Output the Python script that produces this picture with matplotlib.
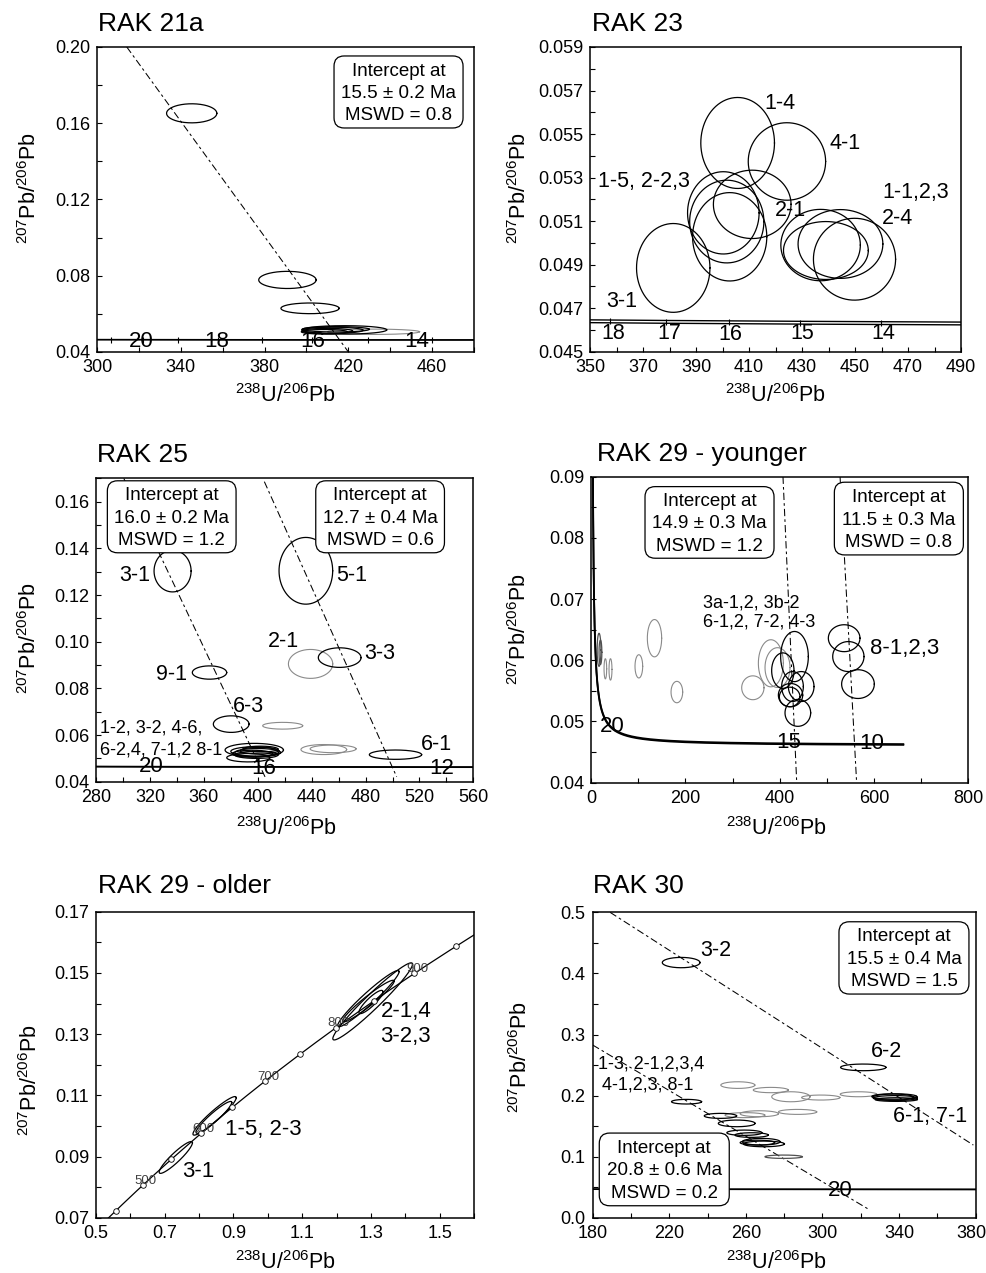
import numpy as np
import matplotlib
matplotlib.use("Agg")
import matplotlib.pyplot as plt
import matplotlib.transforms as mtrans
from matplotlib.ticker import FixedLocator, FormatStrFormatter
from matplotlib.patches import FancyBboxPatch

plt.rcParams['font.family'] = ['Liberation Sans', 'DejaVu Sans']
plt.rcParams['mathtext.fontset'] = 'custom'
plt.rcParams['mathtext.rm'] = 'Liberation Sans'
plt.rcParams['mathtext.it'] = 'Liberation Sans:italic'
plt.rcParams['mathtext.bf'] = 'Liberation Sans:bold'
plt.rcParams['mathtext.sf'] = 'Liberation Sans'

# ---------------- constants ----------------
LAMBDA_238 = 1.55125e-10
LAMBDA_235 = 9.8485e-10
U238_U235 = 137.88
LAMBDA_235_REL_ERR = 0.00137

XLABEL = r'$^{238}$U/$^{206}$Pb'
YLABEL = r'$^{207}$Pb/$^{206}$Pb'

# ---------------- RAK 21a ----------------
r21a_x = [345.2, 390.9, 401.7, 418.0, 412.5, 410.0, 414.0, 408.5, 432.0]
r21a_sx = [12.0, 13.7, 13.9, 20.3, 14.5, 12.0, 16.0, 11.0, 22.0]
r21a_y = [0.1652, 0.0778, 0.0629, 0.0516, 0.0514, 0.0510, 0.0519, 0.0506, 0.0506]
r21a_sy = [0.0050, 0.0045, 0.0028, 0.0022, 0.0016, 0.0014, 0.0014, 0.0012, 0.0014]
r21a_kind = ['k', 'k', 'k', 'k', 'k', 'k', 'k', 'k', 'g']
r21a_disc_x = [[314.2, 420.0]]
r21a_disc_y = [[0.20, 0.04]]
r21a_age_text = ['20', '18', '16', '14']
r21a_age_x = [320.9, 357.2, 402.9, 452.6]
r21a_age_y = [0.0457, 0.0457, 0.0457, 0.0457]
r21a_age_ticks = [14, 15, 16, 17, 18, 19, 20, 21]
r21a_box = ['Intercept at\n15.5 \u00b1 0.2 Ma\nMSWD = 0.8']

# ---------------- RAK 23 ----------------
r23_x = [405.7, 424.3, 381.4, 400.3, 401.6, 402.7, 411.2, 437.0, 439.0, 444.5, 449.8]
r23_sx = [13.9, 14.6, 13.85, 13.5, 14.0, 14.0, 14.65, 15.0, 16.0, 16.0, 15.5]
r23_y = [0.05459, 0.05374, 0.04885, 0.05138, 0.05098, 0.05028, 0.05177,
         0.04990, 0.04965, 0.04995, 0.04925]
r23_sy = [0.00209, 0.00178, 0.00204, 0.00189, 0.00190, 0.00203, 0.00157,
          0.00164, 0.00133, 0.00158, 0.00188]
r23_labels = ['1-4', '4-1', '1-5, 2-2,3', '2-1', '1-1,2,3', '2-4', '3-1']
r23_lx = [421.7, 446.2, 370.4, 425.5, 473.0, 466.0, 362.0]
r23_ly = [0.0564, 0.05456, 0.0528, 0.0515, 0.0523, 0.0511, 0.0473]
r23_age_text = ['18', '17', '16', '15', '14']
r23_age_x = [358.8, 379.8, 403.1, 429.9, 460.7]
r23_age_y = [0.04584, 0.04584, 0.04577, 0.04584, 0.04584]
r23_age_ticks = [14, 15, 16, 17, 18]

# ---------------- RAK 25 ----------------
r25_x = [336.8, 435.7, 439.2, 460.8, 364.2, 380.3, 418.5, 449.0, 455.9, 502.2,
         397.4, 393.0, 398.0, 400.0, 396.0, 401.0, 399.0, 402.0]
r25_sx = [13.75, 19.9, 16.45, 15.85, 12.75, 13.25, 14.85, 16.95, 17.05, 19.4,
          21.65, 16.0, 18.0, 17.0, 15.0, 14.0, 16.0, 13.0]
r25_y = [0.1303, 0.1304, 0.0905, 0.0932, 0.0868, 0.0647, 0.0640, 0.0538, 0.0541, 0.0516,
         0.0536, 0.0503, 0.0530, 0.0525, 0.0520, 0.0533, 0.0515, 0.0540]
r25_sy = [0.00895, 0.0143, 0.0062, 0.0042, 0.00285, 0.00355, 0.00145, 0.00215, 0.00165, 0.0020,
          0.00285, 0.0018, 0.0020, 0.00175, 0.0015, 0.0014, 0.0015, 0.00125]
r25_kind = ['k', 'k', 'g', 'k', 'k', 'k', 'g', 'g', 'g', 'k',
            'k', 'k', 'k', 'k', 'k', 'k', 'k', 'k']
r25_disc_x = [[300.6, 405.4], [404.9, 503.1]]
r25_disc_y = [[0.17, 0.0421], [0.1686, 0.0421]]
r25_labels = ['3-1', '5-1', '2-1', '3-3', '9-1', '6-3', '6-1']
r25_lx = [308.9, 469.7, 419.0, 490.7, 336.1, 393.0, 532.8]
r25_ly = [0.1286, 0.1286, 0.1000, 0.0950, 0.0860, 0.0721, 0.0561]
r25_group = ['1-2, 3-2, 4-6,', '6-2,4, 7-1,2 8-1']
r25_gx = [283.0, 283.0]
r25_gy = [0.0629, 0.0536]
r25_age_text = ['20', '16', '12']
r25_age_x = [321.3, 404.2, 536.5]
r25_age_y = [0.0464, 0.0457, 0.0457]
r25_box = ['Intercept at\n16.0 \u00b1 0.2 Ma\nMSWD = 1.2',
           'Intercept at\n12.7 \u00b1 0.4 Ma\nMSWD = 0.6']

# ---------------- RAK 29 - younger ----------------
r29y_x = [17.0, 20.0, 30.4, 41.3, 101.4, 134.6, 182.0, 343.1, 381.3, 395.4,
          431.4, 406.7, 427.2, 445.6, 423.0, 421.2, 438.5, 536.7, 545.6, 566.0]
r29y_sx = [4.0, 3.0, 2.8, 3.15, 8.15, 15.2, 12.35, 23.65, 26.5, 26.5,
           29.35, 23.7, 23.0, 27.2, 25.8, 21.9, 27.2, 33.55, 33.2, 34.65]
r29y_y = [0.0617, 0.0613, 0.0586, 0.0585, 0.0590, 0.0636, 0.0548, 0.0555, 0.0595, 0.0588,
          0.0606, 0.0583, 0.0557, 0.0557, 0.0543, 0.0540, 0.0514, 0.0636, 0.0606, 0.0561]
r29y_sy = [0.0027, 0.0020, 0.00165, 0.00175, 0.0019, 0.00305, 0.00175, 0.00195, 0.00385, 0.00325,
           0.0041, 0.0029, 0.00245, 0.00245, 0.0019, 0.0016, 0.0022, 0.0022, 0.00245, 0.00235]
r29y_kind = ['d', 'd'] + ['g'] * 8 + ['k'] * 10
r29y_disc_x = [[407.0, 436.0], [528.0, 563.0]]
r29y_disc_y = [[0.09, 0.0402], [0.09, 0.0402]]
r29y_group = ['3a-1,2, 3b-2', '6-1,2, 7-2, 4-3']
r29y_gx = [238.2, 238.2]
r29y_gy = [0.0694, 0.0663]
r29y_labels = ['8-1,2,3']
r29y_lx = [591.5]
r29y_ly = [0.0619]
r29y_age_text = ['20', '15', '10']
r29y_age_x = [45.9, 419.8, 595.0]
r29y_age_y = [0.0491, 0.0466, 0.0464]
r29y_box = ['Intercept at\n14.9 \u00b1 0.3 Ma\nMSWD = 1.2',
            'Intercept at\n11.5 \u00b1 0.3 Ma\nMSWD = 0.8']

# ---------------- RAK 29 - older ----------------
r29o_x = [0.7321, 0.845, 0.843, 1.305, 1.2925, 1.2925, 1.300]
r29o_sx = [0.0484, 0.063, 0.052, 0.116, 0.0895, 0.075, 0.035]
r29o_y = [0.0897, 0.1033, 0.1028, 0.1407, 0.1416, 0.1408, 0.1405]
r29o_sy = [0.0052, 0.0063, 0.0052, 0.0126, 0.0092, 0.0068, 0.0038]
r29o_rho = [0.92, 0.94, 0.935, 0.965, 0.96, 0.955, 0.88]
r29o_labels = ['3-1', '1-5, 2-3', '2-1,4', '3-2,3']
r29o_lx = [0.797, 0.9855, 1.4013, 1.4013]
r29o_ly = [0.0850, 0.0987, 0.1373, 0.1292]
r29o_marker_ages = [450, 500, 550, 600, 650, 700, 750, 800, 850, 900, 950]
r29o_label_ages = [500, 600, 700, 800, 900]

# ---------------- RAK 30 ----------------
r30_x = [255.8, 273.0, 283.5, 299.1, 318.8, 259.5, 267.0, 287.0,
         226.2, 321.3, 337.5, 338.0, 338.5, 337.0, 229.0, 246.7, 255.2, 259.2, 263.0,
         268.0, 269.4, 266.0, 279.7]
r30_sx = [8.9, 9.15, 10.0, 10.0, 9.55, 10.4, 10.0, 10.0,
          9.85, 11.85, 11.75, 11.5, 11.0, 10.5, 7.85, 8.45, 9.6, 9.15, 8.7,
          9.85, 10.7, 9.0, 9.75]
r30_y = [0.2172, 0.2091, 0.1981, 0.1968, 0.2022, 0.1680, 0.1703, 0.1733,
         0.4178, 0.2462, 0.1985, 0.1960, 0.1935, 0.1975, 0.1900, 0.1668, 0.1545, 0.1392, 0.1354,
         0.1245, 0.1209, 0.1230, 0.0999]
r30_sy = [0.00545, 0.00435, 0.0082, 0.0041, 0.0041, 0.0041, 0.0049, 0.0041,
          0.00845, 0.00545, 0.0045, 0.0040, 0.0030, 0.0050, 0.0038, 0.0041, 0.00545, 0.00435, 0.0038,
          0.00545, 0.00465, 0.0040, 0.00275]
r30_kind = ['g'] * 8 + ['k'] * 14 + ['d']
r30_disc_x = [[189.1, 378.8], [180.0, 324.8]]
r30_disc_y = [[0.5, 0.119], [0.2828, 0.0126]]
r30_labels = ['3-2', '6-2', '6-1, 7-1']
r30_lx = [244.4, 333.5, 356.2]
r30_ly = [0.4383, 0.2718, 0.1665]
r30_group = ['1-3, 2-1,2,3,4', '4-1,2,3, 8-1']
r30_gx = [183.0, 184.7]
r30_gy = [0.2516, 0.2172]
r30_age_text = ['20']
r30_age_x = [309.2]
r30_age_y = [0.0453]
r30_box = ['Intercept at\n15.5 \u00b1 0.4 Ma\nMSWD = 1.5',
           'Intercept at\n20.8 \u00b1 0.6 Ma\nMSWD = 0.2']

# ---------------- styling helpers ----------------
COLORS = {'k': 'black', 'g': '#8a8a8a', 'd': '#505050'}
LW = {'k': 0.9, 'g': 0.8, 'd': 0.9}
DASH = (0, (7, 3, 2.5, 3))
BIG = 15.5
SMALL = 13
TICK = 13
BOXFS = 13.5


def tw_concordia(ages_ma, lam235):
    t = np.asarray(ages_ma, dtype=float) * 1e6
    e238 = np.expm1(LAMBDA_238 * t)
    e235 = np.expm1(lam235 * t)
    return 1.0 / e238, e235 / e238 / U238_U235


def wetherill(ages_ma):
    t = np.asarray(ages_ma, dtype=float) * 1e6
    return np.expm1(LAMBDA_235 * t), np.expm1(LAMBDA_238 * t)


def draw_ellipses(ax, xs, sxs, ys, sys_, kinds=None, rhos=None):
    tt = np.linspace(0, 2 * np.pi, 240)
    for i in range(len(xs)):
        kind = kinds[i] if kinds is not None else 'k'
        rho = rhos[i] if rhos is not None else 0.0
        ex = xs[i] + sxs[i] * np.cos(tt)
        ey = ys[i] + sys_[i] * (rho * np.cos(tt) + np.sqrt(1 - rho ** 2) * np.sin(tt))
        ax.plot(ex, ey, color=COLORS[kind], lw=LW[kind], zorder=3 if kind != 'g' else 2)


def draw_concordia(ax, ages, lw):
    for sgn in (1, -1):
        cx, cy = tw_concordia(ages, LAMBDA_235 * (1 + sgn * LAMBDA_235_REL_ERR))
        ax.plot(cx, cy, color='black', lw=lw, zorder=4, solid_capstyle='butt')


def draw_age_ticks(ax, ages):
    cx, cy = tw_concordia(ages, LAMBDA_235)
    ax.plot(cx, cy, ls='none', marker='|', ms=4, mew=0.8, color='black', zorder=4)


def draw_disc(ax, xs, ys):
    for lx, ly in zip(xs, ys):
        ax.plot(lx, ly, color='black', lw=0.75, ls=DASH, zorder=3)


def style(ax, xlim, ylim, xmaj, xminstep, ymaj, yminstep, xfmt, yfmt):
    ax.set_xlim(*xlim)
    ax.set_ylim(*ylim)
    ax.xaxis.set_major_locator(FixedLocator(xmaj))
    ax.yaxis.set_major_locator(FixedLocator(ymaj))
    ax.xaxis.set_minor_locator(FixedLocator(np.arange(xlim[0], xlim[1] + 1e-9, xminstep)))
    ax.yaxis.set_minor_locator(FixedLocator(np.arange(ylim[0], ylim[1] + 1e-9, yminstep)))
    ax.xaxis.set_major_formatter(FormatStrFormatter(xfmt))
    ax.yaxis.set_major_formatter(FormatStrFormatter(yfmt))
    ax.tick_params(which='both', direction='in', length=3.5, width=0.8,
                   top=False, right=False, labelsize=TICK, pad=5)
    for s in ax.spines.values():
        s.set_linewidth(1.1)


def labels(ax, title, tx, ty, xl_y, yl_x, yl_y, xl_x=0.5):
    ax.text(tx, ty, title, transform=ax.transAxes, ha='left', va='baseline', fontsize=19)
    ax.set_xlabel(XLABEL, fontsize=15.5)
    ax.set_ylabel(YLABEL, fontsize=15.5)
    ax.xaxis.set_label_coords(xl_x, xl_y)
    ax.yaxis.set_label_coords(yl_x, yl_y)


def box(ax, text, x0, y0, w, h, aspect):
    p = FancyBboxPatch((x0, y0), w, h, boxstyle='round,pad=0,rounding_size=0.027',
                       mutation_aspect=aspect, transform=ax.transAxes,
                       fc='white', ec='black', lw=0.9, zorder=6)
    ax.add_patch(p)
    ax.text(x0 + w / 2, y0 + h / 2 - 0.005, text, transform=ax.transAxes, ha='center',
            va='center', fontsize=BOXFS, linespacing=1.42, zorder=7, multialignment='center')


def put_text(ax, txts, xs, ys, fs, ha='center'):
    for s, x, y in zip(txts, xs, ys):
        ax.text(x, y, s, fontsize=fs, ha=ha, va='center', zorder=8)


fig = plt.figure(figsize=(9.87, 12.73), dpi=100)

# ---- panel 1 ----
ax1 = fig.add_axes([0.0983, 0.7235, 0.3820, 0.2396])
style(ax1, (300, 480), (0.04, 0.20), [300, 340, 380, 420, 460], 20,
      [0.04, 0.08, 0.12, 0.16, 0.20], 0.02, '%d', '%.2f')
draw_concordia(ax1, np.linspace(5, 60, 800), 1.0)
draw_age_ticks(ax1, r21a_age_ticks)
draw_disc(ax1, r21a_disc_x, r21a_disc_y)
draw_ellipses(ax1, r21a_x, r21a_sx, r21a_y, r21a_sy, r21a_kind)
put_text(ax1, r21a_age_text, r21a_age_x, r21a_age_y, 16)
box(ax1, r21a_box[0], 0.6286, 0.7344, 0.3422, 0.2361, 377 / 305)
labels(ax1, 'RAK 21a', 0.003, 1.052, -0.105, -0.149, 0.538)

# ---- panel 2 ----
ax2 = fig.add_axes([0.5978, 0.7237, 0.3759, 0.2394])
style(ax2, (350, 490), (0.045, 0.059), [350, 370, 390, 410, 430, 450, 470, 490], 10,
      [0.045, 0.047, 0.049, 0.051, 0.053, 0.055, 0.057, 0.059], 0.001, '%d', '%.3f')
draw_concordia(ax2, np.linspace(5, 60, 800), 1.0)
draw_age_ticks(ax2, r23_age_ticks)
draw_ellipses(ax2, r23_x, r23_sx, r23_y, r23_sy)
put_text(ax2, r23_labels, r23_lx, r23_ly, BIG)
put_text(ax2, r23_age_text, r23_age_x, r23_age_y, BIG)
labels(ax2, 'RAK 23', 0.005, 1.053, -0.105, -0.158, 0.537)

# ---- panel 3 ----
ax3 = fig.add_axes([0.0973, 0.3859, 0.3823, 0.2383])
style(ax3, (280, 560), (0.04, 0.17), [280, 320, 360, 400, 440, 480, 520, 560], 20,
      [0.04, 0.06, 0.08, 0.10, 0.12, 0.14, 0.16], 0.01, '%d', '%.2f')
draw_concordia(ax3, np.linspace(5, 60, 800), 1.1)
draw_disc(ax3, r25_disc_x, r25_disc_y)
draw_ellipses(ax3, r25_x, r25_sx, r25_y, r25_sy, r25_kind)
put_text(ax3, r25_labels, r25_lx, r25_ly, BIG)
put_text(ax3, r25_group, r25_gx, r25_gy, SMALL, ha='left')
put_text(ax3, r25_age_text, r25_age_x, r25_age_y, 16)
box(ax3, r25_box[0], 0.030, 0.7548, 0.3411, 0.2373, 377 / 303)
box(ax3, r25_box[1], 0.5823, 0.7548, 0.3411, 0.2373, 377 / 303)
labels(ax3, 'RAK 25', 0.002, 1.055, -0.115, -0.145, 0.474, 0.505)

# ---- panel 4 ----
ax4 = fig.add_axes([0.5988, 0.3852, 0.3823, 0.2404])
style(ax4, (0, 800), (0.04, 0.09), [0, 200, 400, 600, 800], 100,
      [0.04, 0.05, 0.06, 0.07, 0.08, 0.09], 0.005, '%d', '%.2f')
draw_concordia(ax4, np.geomspace(9.7, 4000, 3000), 1.3)
draw_disc(ax4, r29y_disc_x, r29y_disc_y)
draw_ellipses(ax4, r29y_x, r29y_sx, r29y_y, r29y_sy, r29y_kind)
put_text(ax4, r29y_group, r29y_gx, r29y_gy, SMALL, ha='left')
put_text(ax4, r29y_labels, r29y_lx, r29y_ly, 16, ha='left')
put_text(ax4, r29y_age_text, r29y_age_x, r29y_age_y, 16)
box(ax4, r29y_box[0], 0.1431, 0.7333, 0.3419, 0.2340, 377 / 306)
box(ax4, r29y_box[1], 0.6449, 0.7441, 0.3419, 0.2376, 377 / 306)
labels(ax4, 'RAK 29 - younger', 0.016, 1.052, -0.113, -0.160, 0.5, 0.49)

# ---- panel 5 ----
ax5 = fig.add_axes([0.0973, 0.0434, 0.3830, 0.2404])
style(ax5, (0.5, 1.6), (0.07, 0.17), [0.5, 0.7, 0.9, 1.1, 1.3, 1.5], 0.1,
      [0.07, 0.09, 0.11, 0.13, 0.15, 0.17], 0.01, '%.1f', '%.2f')
wx, wy = wetherill(np.linspace(300, 1100, 600))
ax5.plot(wx, wy, color='black', lw=0.9, zorder=4)
draw_ellipses(ax5, r29o_x, r29o_sx, r29o_y, r29o_sy, rhos=r29o_rho)
mx, my = wetherill(r29o_marker_ages)
ax5.plot(mx, my, ls='none', marker='o', ms=4, mfc='white', mec='black', mew=0.6, zorder=5)
lx5, ly5 = wetherill(r29o_label_ages)
for a, x, y in zip(r29o_label_ages, lx5, ly5):
    ax5.annotate(str(a), (x, y), xytext=(2, 3), textcoords='offset points',
                 ha='center', va='center', fontsize=9.5, color='#404040', zorder=6)
put_text(ax5, r29o_labels, r29o_lx, r29o_ly, 16)
labels(ax5, 'RAK 29 - older', 0.006, 1.060, -0.108, -0.144, 0.448)

# ---- panel 6 ----
ax6 = fig.add_axes([0.6005, 0.0434, 0.3880, 0.2399])
style(ax6, (180, 380), (0.0, 0.5), [180, 220, 260, 300, 340, 380], 20,
      [0.0, 0.1, 0.2, 0.3, 0.4, 0.5], 0.05, '%d', '%.1f')
draw_concordia(ax6, np.linspace(5, 60, 800), 1.1)
draw_disc(ax6, r30_disc_x, r30_disc_y)
draw_ellipses(ax6, r30_x, r30_sx, r30_y, r30_sy, r30_kind)
put_text(ax6, r30_labels, r30_lx, r30_ly, BIG)
put_text(ax6, r30_group, r30_gx, r30_gy, SMALL, ha='left')
put_text(ax6, r30_age_text, r30_age_x, r30_age_y, 16)
box(ax6, r30_box[0], 0.6431, 0.7325, 0.3394, 0.2367, 383 / 305)
box(ax6, r30_box[1], 0.0172, 0.0393, 0.3394, 0.2380, 383 / 305)
labels(ax6, 'RAK 30', 0.002, 1.062, -0.108, -0.159, 0.527, 0.48)

# keep the last x tick label of the right-hand panels inside the canvas
last_tick = ax6.xaxis.get_major_ticks()[-1]
last_tick.label1.set_transform(last_tick.label1.get_transform()
                               + mtrans.ScaledTranslation(-4 / 100, 0, fig.dpi_scale_trans))

fig.savefig('out.png', dpi=100)
